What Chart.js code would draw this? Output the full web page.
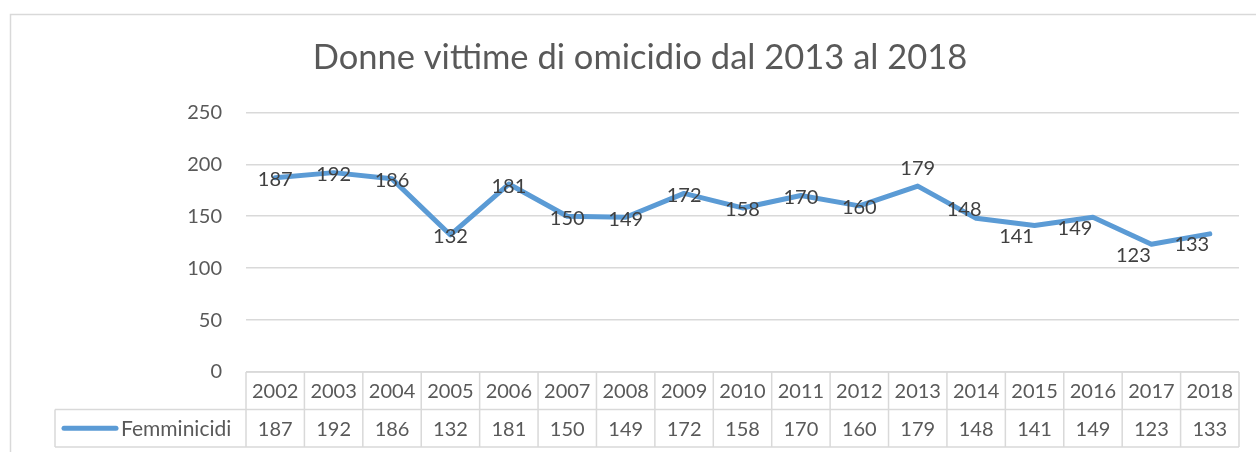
<!DOCTYPE html>
<html>
<head>
<meta charset="utf-8">
<script src="https://cdn.jsdelivr.net/npm/chart.js@4.4.1/dist/chart.umd.min.js"></script>
<style>
  html, body { margin: 0; padding: 0; background: #ffffff; }
  #wrap { width: 1256px; height: 452px; }
</style>
</head>
<body>
<div id="wrap"><canvas id="chart" width="1256" height="452"></canvas></div>
<script>
// chart data
var years = ["2002", "2003", "2004", "2005", "2006", "2007", "2008", "2009", "2010",
             "2011", "2012", "2013", "2014", "2015", "2016", "2017", "2018"];
var femminicidi = [187, 192, 186, 132, 181, 150, 149, 172, 158, 170, 160, 179, 148, 141, 149, 123, 133];
var yTicks = [0, 50, 100, 150, 200, 250];
var seriesName = "Femminicidi";
// where each data label sits relative to its point
var labelPlace = ["center", "center", "center", "center", "center", "center", "center", "center", "center",
                  "center", "center", "above", "aboveLeft", "belowLeft", "belowLeft", "belowLeft", "belowLeft"];

var FONT = "Lato, 'Liberation Sans', sans-serif";
var TEXT = "#595959";
var GRID = "#d9d9d9";
var LINE = "#5b9bd5";

// outer frame of the excel chart
var framePlugin = {
    id: "frame",
    beforeDraw: function (chart) {
        var ctx = chart.ctx;
        ctx.save();
        ctx.strokeStyle = GRID;
        ctx.lineWidth = 1.5;
        ctx.beginPath();
        ctx.moveTo(10.5, 460);
        ctx.lineTo(10.5, 14.5);
        ctx.lineTo(1270, 14.5);
        ctx.stroke();
        ctx.restore();
    }
};

// data labels drawn on the line
var labelPlugin = {
    id: "pointLabels",
    afterDatasetsDraw: function (chart) {
        var ctx = chart.ctx;
        var meta = chart.getDatasetMeta(0);
        var shift = {
            center: [0, 2],
            above: [0, -18],
            aboveLeft: [-12, -9],
            belowLeft: [-18, 11]
        };
        ctx.save();
        ctx.font = "20px " + FONT;
        ctx.fillStyle = "#404040";
        ctx.textAlign = "center";
        ctx.textBaseline = "middle";
        meta.data.forEach(function (pt, i) {
            var s = shift[labelPlace[i]];
            ctx.fillText(String(femminicidi[i]), pt.x + s[0], pt.y + s[1]);
        });
        ctx.restore();
    }
};

// data table under the plot
var tablePlugin = {
    id: "dataTable",
    afterDraw: function (chart) {
        var ctx = chart.ctx;
        var area = chart.chartArea;
        var xs = chart.scales.x;
        var colW = (area.right - area.left) / years.length;
        var rowH = 37.5;
        var top = area.bottom;
        var legendLeft = 55;

        ctx.save();
        ctx.strokeStyle = GRID;
        ctx.lineWidth = 1.5;
        ctx.beginPath();
        // horizontal lines
        ctx.moveTo(area.left, top);
        ctx.lineTo(area.right, top);
        ctx.moveTo(legendLeft, top + rowH);
        ctx.lineTo(area.right, top + rowH);
        ctx.moveTo(legendLeft, top + 2 * rowH);
        ctx.lineTo(area.right, top + 2 * rowH);
        // vertical lines
        ctx.moveTo(legendLeft, top + rowH);
        ctx.lineTo(legendLeft, top + 2 * rowH);
        for (var i = 0; i <= years.length; i++) {
            var x = area.left + i * colW;
            ctx.moveTo(x, top);
            ctx.lineTo(x, top + 2 * rowH);
        }
        ctx.stroke();

        ctx.font = "20px " + FONT;
        ctx.fillStyle = TEXT;
        ctx.textAlign = "center";
        ctx.textBaseline = "middle";
        years.forEach(function (y, i) {
            var cx = xs.getPixelForValue(i);
            ctx.fillText(y, cx, top + rowH / 2 + 1);
            ctx.fillText(String(femminicidi[i]), cx, top + rowH * 1.5 + 1);
        });

        // legend key
        ctx.strokeStyle = LINE;
        ctx.lineWidth = 5;
        ctx.lineCap = "round";
        ctx.beginPath();
        ctx.moveTo(64, top + rowH * 1.5);
        ctx.lineTo(116, top + rowH * 1.5);
        ctx.stroke();
        ctx.textAlign = "left";
        ctx.font = "21px " + FONT;
        ctx.fillText(seriesName, 121, top + rowH * 1.5 + 1);
        ctx.restore();
    }
};

var ctx = document.getElementById("chart").getContext("2d");
var chart = new Chart(ctx, {
    type: "line",
    data: {
        labels: years,
        datasets: [{
            label: seriesName,
            data: femminicidi,
            borderColor: LINE,
            backgroundColor: LINE,
            borderWidth: 5,
            borderJoinStyle: "round",
            borderCapStyle: "round",
            pointRadius: 0,
            tension: 0
        }]
    },
    options: {
        responsive: false,
        animation: false,
        layout: {
            padding: { left: 41, right: 17, top: 0, bottom: 80 }
        },
        plugins: {
            legend: { display: false },
            tooltip: { enabled: false },
            title: {
                display: true,
                text: "Donne vittime di omicidio dal 2013 al 2018",
                color: TEXT,
                font: { family: FONT, size: 34.5, weight: "normal" },
                padding: { top: 37, bottom: 34 }
            }
        },
        scales: {
            x: {
                display: false,
                offset: true
            },
            y: {
                min: 0,
                max: 250,
                afterBuildTicks: function (scale) {
                    scale.ticks = yTicks.map(function (v) { return { value: v }; });
                },
                afterFit: function (scale) {
                    scale.width = 205;
                },
                border: { display: false },
                grid: { color: GRID, lineWidth: 1.5, drawTicks: false },
                ticks: {
                    color: TEXT,
                    padding: 24,
                    font: { family: FONT, size: 20 }
                }
            }
        }
    },
    plugins: [framePlugin, labelPlugin, tablePlugin]
});
</script>
</body>
</html>
